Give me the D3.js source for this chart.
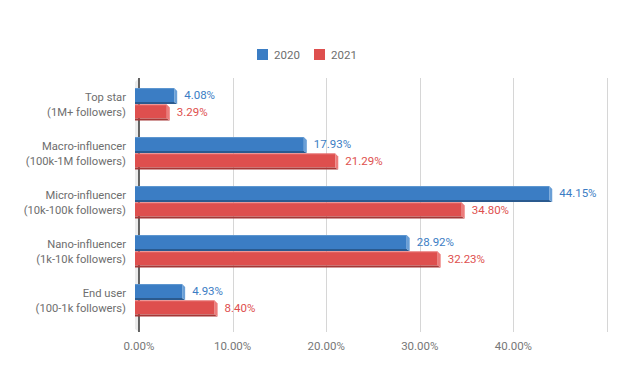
<!DOCTYPE html>
<html lang="en">
<head>
  <meta charset="UTF-8">
  <title>influencer share</title>
  <style>
    body { margin: 0; background: #fff; }
    svg text { font-family: Roboto, "Noto Sans", sans-serif; }
  </style>
</head>
<body>
  <div class="chart"></div>
  <script src="https://cdnjs.cloudflare.com/ajax/libs/d3/7.8.5/d3.min.js"></script>
  <script>
    'use strict';

    const categories = ['Top star', 'Macro-influencer', 'Micro-influencer', 'Nano-influencer', 'End user'],
      subLabels = ['(1M+ followers)', '(100k-1M followers)', '(10k-100k followers)', '(1k-10k followers)', '(100-1k followers)'],
      series = ['2020', '2021'],
      values2020 = [4.08, 17.93, 44.15, 28.92, 4.93],
      values2021 = [3.29, 21.29, 34.80, 32.23, 8.40],
      ticks = [0, 10, 20, 30, 40, 50];

    const w = 623, h = 372;
    const colors = { '2020': '#3b7dc4', '2021': '#de4f4e' };
    const dark = { '2020': '#2a5a8f', '2021': '#a53736' };
    const light = { '2020': '#6a9fd6', '2021': '#ec7c7b' };
    const depth = 4;

    const svg = d3.select('.chart').append('svg')
      .attr('width', w).attr('height', h);

    const x = d3.scaleLinear().domain([0, 50]).range([139, 607]);
    const y = d3.scaleBand().domain(categories).range([80, 325])
      .paddingInner(0.33).paddingOuter(0.165);
    const sub = d3.scaleBand().domain(series).range([0, y.bandwidth()]);

    // grid
    svg.append('g').selectAll('line')
      .data(ticks.slice(1))
      .join('line')
      .attr('x1', d => Math.round(x(d)) + 0.5).attr('x2', d => Math.round(x(d)) + 0.5)
      .attr('y1', 78).attr('y2', 332)
      .attr('stroke', '#d6d6d6');

    // left wall depth
    svg.append('path')
      .attr('d', `M${x(0) - depth},${82}L${x(0)},${78}L${x(0)},${332}L${x(0) - depth},${329}Z`)
      .attr('fill', '#ebebeb');

    svg.append('line')
      .attr('x1', x(0)).attr('x2', x(0)).attr('y1', 78).attr('y2', 332)
      .attr('stroke', '#333').attr('stroke-width', 1.5);

    // tick labels
    svg.append('g').selectAll('text')
      .data(ticks.slice(0, 5))
      .join('text')
      .attr('x', d => x(d)).attr('y', 350)
      .attr('text-anchor', 'middle')
      .attr('font-size', 11.5).attr('fill', '#777')
      .text(d => d.toFixed(2) + '%');

    // category labels
    const cat = svg.append('g').selectAll('text')
      .data(categories)
      .join('text')
      .attr('text-anchor', 'end')
      .attr('font-size', 11.2).attr('fill', '#6e6e6e');
    cat.append('tspan')
      .attr('x', 126).attr('y', d => y(d) + y.bandwidth() / 2 - 4)
      .text(d => d);
    cat.append('tspan')
      .attr('x', 126).attr('y', (d, i) => y(d) + y.bandwidth() / 2 + 11.5)
      .text((d, i) => subLabels[i]);

    // bars
    const rows = [];
    categories.forEach((c, i) => {
      rows.push({ cat: c, s: '2020', v: values2020[i] });
      rows.push({ cat: c, s: '2021', v: values2021[i] });
    });

    const bar = svg.append('g').selectAll('g')
      .data(rows)
      .join('g');

    bar.each(function (d) {
      const g = d3.select(this);
      const y0 = y(d.cat) + sub(d.s);
      const bh = sub.bandwidth();
      const x0 = x(0) - depth, x1 = x(d.v) - depth + 1;
      // front face
      g.append('rect')
        .attr('x', x0).attr('y', y0).attr('width', x1 - x0).attr('height', bh - 2.5)
        .attr('fill', colors[d.s]);
      // bottom shade
      g.append('path')
        .attr('d', `M${x0},${y0 + bh - 2.5}L${x1},${y0 + bh - 2.5}L${x1 + 3},${y0 + bh - 0.5}L${x0},${y0 + bh - 0.5}Z`)
        .attr('fill', dark[d.s]);
      // right side
      g.append('path')
        .attr('d', `M${x1},${y0}L${x1 + 3},${y0 + 3}L${x1 + 3},${y0 + bh - 0.5}L${x1},${y0 + bh - 2.5}Z`)
        .attr('fill', light[d.s]);
      // top highlight
      g.append('rect')
        .attr('x', x0).attr('y', y0).attr('width', x1 - x0).attr('height', 1)
        .attr('fill', light[d.s]).attr('opacity', 0.7);
      // value label
      g.append('text')
        .attr('x', x(d.v) + 7).attr('y', y0 + bh / 2 + 3)
        .attr('font-size', 11.5).attr('fill', colors[d.s])
        .text(d.v.toFixed(2) + '%');
    });

    // legend
    const leg = svg.append('g').selectAll('g')
      .data(series)
      .join('g')
      .attr('transform', (d, i) => `translate(${257 + i * 57},49)`);
    leg.append('rect')
      .attr('width', 11).attr('height', 11)
      .attr('fill', d => colors[d]);
    leg.append('text')
      .attr('x', 17).attr('y', 10)
      .attr('font-size', 11.5).attr('fill', '#6e6e6e')
      .text(d => d);
  </script>
</body>
</html>
